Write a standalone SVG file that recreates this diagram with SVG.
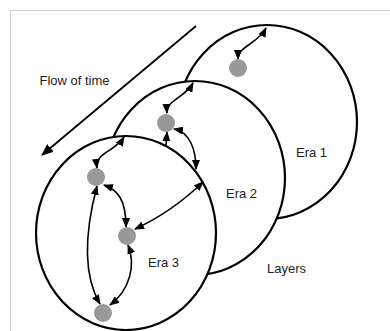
<svg xmlns="http://www.w3.org/2000/svg" width="390" height="331" viewBox="0 0 390 331">
  <style>
    .frame { stroke: #cfcfcf; stroke-width: 1; fill: none; }
    .era { fill: #ffffff; stroke: #000000; stroke-width: 2.2; }
    .link { fill: none; stroke: #000000; stroke-width: 1.6; }
    .dot { fill: #999999; }
    .label { font-family: "Liberation Sans", Arial, sans-serif; font-size: 13px; fill: #222222; }
  </style>
  <defs>
    <marker id="head" viewBox="0 0 10 8" refX="9" refY="4" markerWidth="10" markerHeight="8" markerUnits="userSpaceOnUse" orient="auto-start-reverse">
      <path d="M0,0 L10,4 L0,8 z" fill="#000000"/>
    </marker>
    <marker id="bighead" viewBox="0 0 12 10" refX="11" refY="5" markerWidth="12" markerHeight="10" markerUnits="userSpaceOnUse" orient="auto">
      <path d="M0,0 L12,5 L0,10 z" fill="#000000"/>
    </marker>
  </defs>

  <!-- frame lines -->
  <path class="frame" d="M10.5 331 V10.5 H390"/>

  <!-- time direction -->
  <g id="flow">
    <line x1="196" y1="26" x2="42" y2="155" stroke="#000000" stroke-width="1.8" marker-end="url(#bighead)"/>
    <text class="label" x="39.5" y="85">Flow of time</text>
  </g>

  <!-- layers, oldest at the back -->
  <g id="era1">
    <ellipse class="era" cx="267" cy="122" rx="90" ry="97"/>
    <text class="label" x="296" y="157">Era 1</text>
  </g>
  <g id="era2">
    <ellipse class="era" cx="195" cy="178" rx="90" ry="97"/>
    <text class="label" x="226" y="198">Era 2</text>
  </g>
  <g id="era3">
    <ellipse class="era" cx="126" cy="233" rx="90" ry="97"/>
    <text class="label" x="148" y="267">Era 3</text>
  </g>

  <g id="layers-label">
    <text class="label" x="267" y="273">Layers</text>
  </g>

  <!-- connectors -->
  <g id="links">
    <path class="link" d="M238 59 C238 46, 258 44, 266 28" marker-start="url(#head)" marker-end="url(#head)"/>
    <path class="link" d="M167 113 C166 100, 185 98, 193 83" marker-start="url(#head)" marker-end="url(#head)"/>
    <path class="link" d="M97 168 C95 152, 115 152, 124 137" marker-start="url(#head)" marker-end="url(#head)"/>
    <path class="link" d="M166 145 L167 132" marker-end="url(#head)"/>
    <path class="link" d="M174 129 C190 132, 196 150, 196 169" marker-start="url(#head)" marker-end="url(#head)"/>
    <path class="link" d="M135 229 Q172 212 203 182" marker-start="url(#head)" marker-end="url(#head)"/>
    <path class="link" d="M104 185 C118 190, 126 200, 126 227" marker-start="url(#head)" marker-end="url(#head)"/>
    <path class="link" d="M97 186 C88 220, 80 270, 100 304" marker-start="url(#head)" marker-end="url(#head)"/>
    <path class="link" d="M128 245 C136 265, 130 290, 110 305" marker-start="url(#head)" marker-end="url(#head)"/>
  </g>

  <!-- entities -->
  <g id="node-a"><circle class="dot" cx="238" cy="68" r="9"/></g>
  <g id="node-b"><circle class="dot" cx="166" cy="123" r="9"/></g>
  <g id="node-c"><circle class="dot" cx="96" cy="177" r="9"/></g>
  <g id="node-d"><circle class="dot" cx="127" cy="236" r="9"/></g>
  <g id="node-e"><circle class="dot" cx="103" cy="313" r="9"/></g>
</svg>
